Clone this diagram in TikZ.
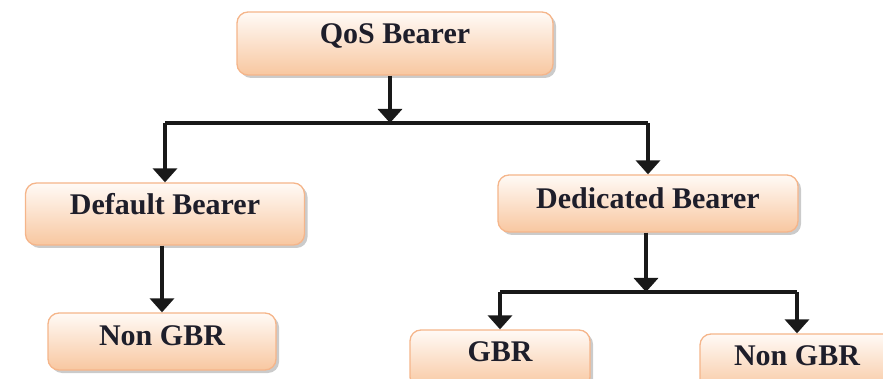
\documentclass[tikz,border=0pt]{standalone}
\usepackage{fontspec}
\setmainfont{Liberation Serif}
\usetikzlibrary{arrows.meta,shadows}
\definecolor{boxedge}{HTML}{F5B58A}
\definecolor{boxtop}{HTML}{FFFAF6}
\definecolor{boxbottom}{HTML}{F8C7A0}
\definecolor{labelink}{HTML}{1E1E2A}
\tikzset{
  bearerbox/.style={draw=boxedge, line width=1.3pt, rounded corners=11pt,
    top color=boxtop, bottom color=boxbottom,
    drop shadow={shadow xshift=3pt, shadow yshift=-3pt, fill=black!45, opacity=0.45},
    font=\fontsize{30}{36}\bfseries\selectfont, text=labelink,
    text height=20pt, inner sep=0pt},
  flow/.style={line width=3.4pt, draw=black!90,
    -{Triangle[width=24pt,length=14pt]}},
  plain/.style={line width=3.4pt, draw=black!90}
}
\begin{document}
\begin{tikzpicture}[x=1pt,y=-1pt]
\useasboundingbox (0,0) rectangle (883,379);

% bearer boxes
\node[bearerbox, minimum width=316pt, minimum height=63pt, text depth=19pt] (qos) at (395,43.5) {QoS Bearer};
\node[bearerbox, minimum width=279pt, minimum height=62pt, text depth=18pt] (default) at (165,214) {Default Bearer};
\node[bearerbox, minimum width=300pt, minimum height=57pt, text depth=10pt] (dedicated) at (648,203.5) {Dedicated Bearer};
\node[bearerbox, minimum width=228pt, minimum height=57pt, text depth=13pt] (nongbrA) at (162,341.5) {Non GBR};
\node[bearerbox, minimum width=180pt, minimum height=58pt, text depth=15pt] (gbr) at (500,359) {GBR};
\node[bearerbox, minimum width=194pt, minimum height=58pt, text depth=16pt] (nongbrB) at (797,363) {Non GBR};

% branch points
\coordinate (split1) at (390,123);
\coordinate (split2) at (646,292);

% connectors
\draw[flow] (qos.south -| split1) -- (split1);
\draw[plain] (split1) -- (split1 -| default.north) coordinate (c1);
\draw[flow] (c1) -- (default.north);
\draw[plain] (split1) -- (split1 -| dedicated.north) coordinate (c2);
\draw[flow] (c2) -- (dedicated.north);
\draw[flow] (default.south -| nongbrA.north) -- (nongbrA.north);
\draw[flow] (dedicated.south -| split2) -- (split2);
\draw[plain] (split2) -- (split2 -| gbr.north) coordinate (c3);
\draw[flow] (c3) -- (gbr.north);
\draw[plain] (split2) -- (split2 -| nongbrB.north) coordinate (c4);
\draw[flow] (c4) -- (nongbrB.north);
\end{tikzpicture}
\end{document}
